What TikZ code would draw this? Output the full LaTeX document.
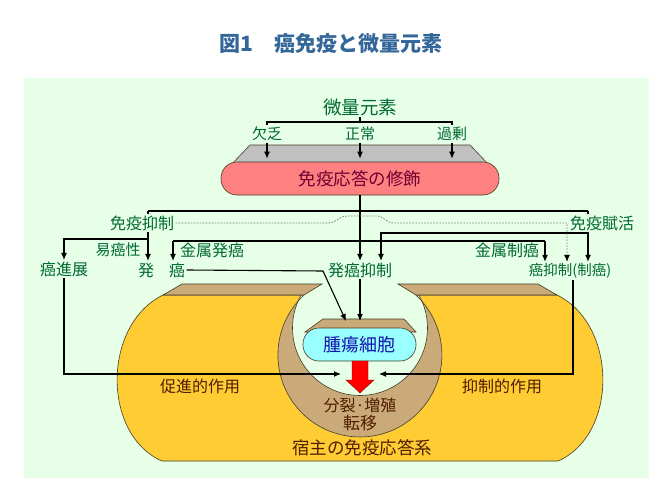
\documentclass[tikz,border=0pt]{standalone}
\usepackage{fontspec}
\setmainfont{Noto Sans CJK JP}
\usetikzlibrary{arrows.meta,calc}
\definecolor{bgc}{RGB}{230,255,230}
\definecolor{yel}{RGB}{255,204,51}
\definecolor{beige}{RGB}{201,170,120}
\definecolor{grn}{RGB}{0,105,50}
\definecolor{brn}{RGB}{80,30,0}
\definecolor{mar}{RGB}{110,0,50}
\definecolor{tblue}{RGB}{20,20,170}
\definecolor{ttl}{RGB}{51,102,153}
\definecolor{pnk}{RGB}{255,128,128}
\definecolor{cyn}{RGB}{153,255,255}
\definecolor{gry}{RGB}{192,192,192}
\definecolor{edge}{RGB}{70,60,40}
\begin{document}
\begin{tikzpicture}[x=1pt,y=-1pt,
  lbl/.style={text=grn,inner sep=1.5pt,font=\fontsize{16}{18}\selectfont},
  lbls/.style={lbl,font=\fontsize{15}{17}\selectfont},
  brtxt/.style={text=brn,inner sep=1pt,font=\fontsize{16}{18}\selectfont},
  conn/.style={draw=black,line width=1.1pt},
  arr/.style={conn,-{Latex[length=7pt,width=6pt]}},
  dotl/.style={draw=gray,line width=0.8pt,dash pattern=on 1.6pt off 1.4pt,-{Latex[length=7pt,width=6pt,black]}},
  shp/.style={draw=edge,line width=0.6pt}]
\useasboundingbox (0,0) rectangle (670,503);
\fill[white] (0,0) rectangle (670,503);
\fill[bgc] (24,78) rectangle (649,478);

% title
\node[font=\fontsize{21}{23}\selectfont\bfseries,text=ttl,inner sep=0] (title) at (331,43) {図1\hspace{1em}癌免疫と微量元素};

% ---- host body ----
\fill[yel] (163,295) -- (304,295) arc[start angle=227,end angle=-47,radius=82] -- (557,295)
  .. controls (618,325) and (618,435) .. (558,461) -- (162,461)
  .. controls (102,435) and (102,325) .. (163,295) -- cycle;
\begin{scope}
  \clip (250,295) rectangle (470,445);
  \fill[beige] (360,355) circle[radius=82];
\end{scope}
\begin{scope}
  \clip (270,287) rectangle (450,420);
  \filldraw[fill=bgc,shp] (360,328) circle[radius=67.5];
\end{scope}
\draw[shp] (163,295) -- (304,295) arc[start angle=227,end angle=-47,radius=82] -- (557,295)
  .. controls (618,325) and (618,435) .. (558,461) -- (162,461)
  .. controls (102,435) and (102,325) .. (163,295) -- cycle;
\filldraw[fill=beige,shp] (182,284) -- (322,284) -- (304,295) -- (163,295) -- cycle;
\filldraw[fill=beige,shp] (398,284) -- (538,284) -- (557,295) -- (416,295) -- cycle;

% tumor cell
\filldraw[fill=beige,shp] (323,319) -- (404,319) -- (416,332) -- (305,332) -- cycle;
\node[fill=cyn,shp,rounded corners=16pt,minimum width=113pt,minimum height=33pt,inner sep=0,
  text=tblue,font=\fontsize{18}{20}\selectfont] (tc) at (359.5,344.5) {腫瘍細胞};
\coordinate (t1) at (346,321);
\coordinate (t2) at (360,321);
% red block arrow
\filldraw[fill=red,draw=red!60!black,line width=0.4pt] (352,361) -- (368,361) -- (368,380) -- (374,380)
  -- (360,393) -- (346,380) -- (352,380) -- cycle;

\node[brtxt] (cs) at (200,386) {促進的作用};
\node[brtxt] (ys) at (502,386) {抑制的作用};
\node[brtxt,font=\fontsize{16}{17}\selectfont] (bz) at (360,405) {分裂·増殖};
\node[brtxt,font=\fontsize{17}{18}\selectfont] (tn) at (360,423) {転移};
\node[brtxt,font=\fontsize{17.5}{19}\selectfont] (sk) at (362,448) {宿主の免疫応答系};
\coordinate (lh) at (341,374);
\coordinate (rh) at (379,374);

% ---- top ----
\node[text=grn,inner sep=1pt,font=\fontsize{18.5}{20}\selectfont] (micro) at (360,107) {微量元素};
\node[lbls] (kb) at (267,134) {欠乏};
\node[lbls] (sj) at (360,134) {正常};
\node[lbls] (kj) at (452,134) {過剰};
\coordinate (br) at (360,122);
\draw[conn] (micro.south) -- (br);
\draw[conn] (kb.north) -- (kb.north |- br) -- (kj.north |- br) -- (kj.north);

\filldraw[fill=gry,draw=edge,line width=0.6pt] (250,145) -- (470,145) -- (490,166) -- (230,166) -- cycle;
\node[fill=pnk,shp,rounded corners=16pt,minimum width=278pt,minimum height=33pt,inner sep=0,
  text=mar,font=\fontsize{17.5}{19}\selectfont] (mod) at (360,178.5) {免疫応答の修飾};
\draw[arr,shorten >=3pt] (kb.south) -- (kb.south |- mod.north);
\draw[arr,shorten >=3pt] (sj.south) -- (sj.south |- mod.north);
\draw[arr,shorten >=3pt] (kj.south) -- (kj.south |- mod.north);

% ---- middle labels ----
\node[lbl] (my) at (142,223) {免疫抑制};
\node[lbl] (mf) at (602,223) {免疫賦活};
\node[lbls] (ig) at (118,250) {易癌性};
\node[lbl] (kh) at (212,250) {金属発癌};
\node[lbl] (ks) at (507,250) {金属制癌};
\node[lbl] (gs) at (64,269) {癌進展};
\node[lbl] (hatsu) at (146,270) {発};
\node[lbl] (gan) at (177,270) {癌};
\node[lbl] (hy) at (360,270) {発癌抑制};
\node[lbl,font=\fontsize{14.5}{16}\selectfont] (gy) at (570,271) {癌抑制(制癌)};

\draw[arr] (mod.south) -- (hy.north);
\coordinate (a1) at (148,211);
\coordinate (a2) at (588,211);
\draw[conn] (a1) -- (a2);
\draw[conn] (a1) -- (a1 |- my.north);
\draw[conn] (a2) -- (a2 |- mf.north);
\coordinate (b1) at (148,239);
\coordinate (b0) at (64,239);
\draw[conn] (b1 |- my.south) -- (b1);
\draw[arr] (b1) -- (b1 |- hatsu.north);
\draw[arr] (b1) -- (b0) -- (b0 |- gs.north);
\coordinate (c2) at (588,233);
\coordinate (c1) at (381,233);
\draw[arr] (c2 |- mf.south) -- (c2 |- gy.north);
\draw[arr] (c2) -- (c1) -- (c1 |- hy.north);
\coordinate (d1) at (173,241);
\coordinate (d2) at (545,241);
\draw[conn] (d1) -- (d2);
\draw[arr] (d1) -- (d1 |- gan.north);
\draw[arr] (d2) -- (d2 |- gy.north);
\coordinate (e1) at (567,223);
\draw[dotl] (my.east) -- (328,223) .. controls (338,223) and (337,216) .. (348,216) -- (376,216)
  .. controls (386,216) and (384,223) .. (395,223) -- (e1) -- (e1 |- gy.north);

% ---- lower connectors ----
\coordinate (g1) at (323,271);
\draw[arr] (gan.east) -- (g1) -- (t1);
\draw[arr] (hy.south) -- (t2);
\draw[arr] (gs.south) -- (gs.south |- lh) -- (lh);
\coordinate (rx) at (573,300);
\draw[arr] (rx |- gy.south) -- (rx |- rh) -- (rh);
\end{tikzpicture}
\end{document}
